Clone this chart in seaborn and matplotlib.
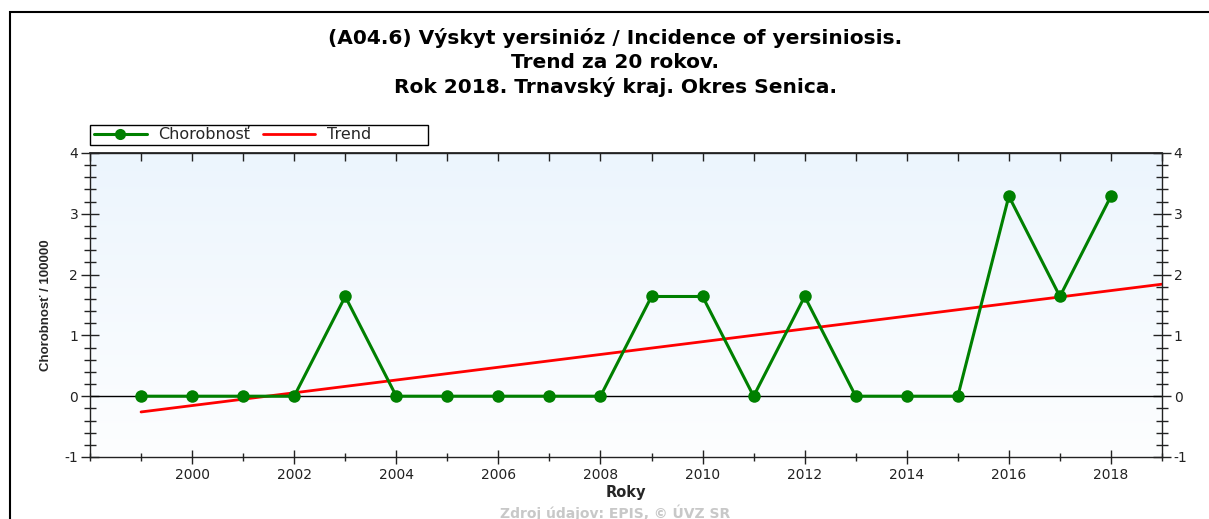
"""Incidence of yersiniosis in Senica district, 20-year trend."""

import numpy as np
import pandas as pd
import matplotlib

matplotlib.use("Agg")
import matplotlib.pyplot as plt
from matplotlib.patches import Rectangle
from matplotlib.ticker import MultipleLocator, FixedLocator
import seaborn as sns

YEARS = list(range(1999, 2019))
RATES = [0, 0, 0, 0, 1.64, 0, 0, 0, 0, 0, 1.64, 1.64, 0, 1.64, 0, 0, 0, 3.29, 1.64, 3.29]
X_LABELED = list(range(2000, 2019, 2))
TITLE_LINES = [
    "(A04.6) Výskyt yersinióz / Incidence of yersiniosis.",
    "Trend za 20 rokov.",
    "Rok 2018. Trnavský kraj. Okres Senica.",
]
SERIES_LABEL = "Chorobnosť"
TREND_LABEL = "Trend"

GREEN = "#008000"
RED = "#ff0000"
W, H = 1209, 519


def fx(px):
    return px / W


def fy(py):
    return 1 - py / H


def main():
    sns.set_theme(style="white")
    plt.rcParams["font.family"] = ["DejaVu Sans"]
    plt.rcParams["axes.unicode_minus"] = False

    df = pd.DataFrame({"year": YEARS, "rate": RATES})
    slope, intercept = np.polyfit(df["year"], df["rate"], 1)
    trend = pd.DataFrame({"year": [1999, 2019]})
    trend["rate"] = slope * trend["year"] + intercept

    fig = plt.figure(figsize=(W / 100, H / 100), dpi=100)
    fig.patches.append(Rectangle((fx(10), -0.1), 1.2, fy(12) + 0.1,
                                 transform=fig.transFigure, fill=False,
                                 edgecolor="black", linewidth=1.5))
    ax = fig.add_axes([fx(90), fy(457), fx(1162) - fx(90), fy(153) - fy(457)])

    grad = np.linspace(0, 1, 256).reshape(-1, 1)
    cmap = matplotlib.colors.LinearSegmentedColormap.from_list(
        "bg", ["#ecf5fd", "#fdfeff"])
    ax.imshow(grad, aspect="auto", cmap=cmap, extent=[0, 1, 0, 1],
              transform=ax.transAxes, zorder=0)

    ax.axhline(0, color="black", linewidth=1, zorder=1)
    sns.lineplot(data=trend, x="year", y="rate", ax=ax, color=RED,
                 linewidth=2, label=TREND_LABEL, zorder=2)
    sns.lineplot(data=df, x="year", y="rate", ax=ax, color=GREEN,
                 linewidth=2.2, marker="o", markersize=9, markeredgewidth=0,
                 label=SERIES_LABEL, zorder=3)
    handles, labels = ax.get_legend_handles_labels()
    ax.get_legend().remove()

    ax.set_xlim(1998, 2019)
    ax.set_ylim(-1, 4)
    ax.xaxis.set_major_locator(FixedLocator(X_LABELED))
    ax.xaxis.set_minor_locator(MultipleLocator(1))
    ax.yaxis.set_major_locator(MultipleLocator(1))
    ax.yaxis.set_minor_locator(MultipleLocator(0.2))
    ax.tick_params(axis="both", which="both", direction="inout", color="#222222",
                   labelsize=10, labelcolor="#222222", width=1,
                   left=True, right=True, bottom=True, top=False,
                   labelleft=True, labelright=True)
    ax.tick_params(axis="y", which="major", length=13, pad=2)
    ax.tick_params(axis="y", which="minor", length=8)
    ax.tick_params(axis="x", which="major", length=10, pad=3)
    ax.tick_params(axis="x", which="minor", length=6)
    for spine in ax.spines.values():
        spine.set_color("#222222")
        spine.set_linewidth(1)

    top = ax.secondary_xaxis("top")
    top.xaxis.set_major_locator(MultipleLocator(1))
    top.tick_params(axis="x", direction="in", length=6, width=1,
                    color="#222222", labeltop=False)
    top.spines["top"].set_color("#222222")

    ax.set_xlabel("Roky", fontsize=10.5, fontweight="bold", labelpad=2)
    ax.set_ylabel("Chorobnosť / 100000", fontsize=9.5, fontweight="bold",
                  family="Liberation Sans", labelpad=9)

    order = [labels.index(SERIES_LABEL), labels.index(TREND_LABEL)]
    leg = fig.legend([handles[i] for i in order], [labels[i] for i in order],
                     ncol=2, loc="center left",
                     bbox_to_anchor=(fx(94), fy(135)), bbox_transform=fig.transFigure,
                     frameon=False, fontsize=11.5, borderpad=0, borderaxespad=0,
                     handlelength=3.3, columnspacing=0.8, handletextpad=0.7)
    for handle in leg.legend_handles:
        if handle.get_marker() == "o":
            handle.set_markersize(8)
    fig.patches.append(Rectangle((fx(90), fy(145)), fx(428) - fx(90), fy(125) - fy(145),
                                 transform=fig.transFigure, fill=False,
                                 edgecolor="black", linewidth=1))

    for line, ypix in zip(TITLE_LINES, [38, 63, 87]):
        fig.text(fx(615), fy(ypix), line, ha="center", va="center",
                 fontsize=14.5, fontweight="bold", color="black")

    fig.text(fx(615), fy(513), "Zdroj údajov: EPIS, © ÚVZ SR",
             ha="center", va="center", fontsize=10, fontweight="bold",
             color="#c8c8c8")

    fig.savefig("out.png", dpi=100)
    plt.close(fig)


if __name__ == "__main__":
    main()
